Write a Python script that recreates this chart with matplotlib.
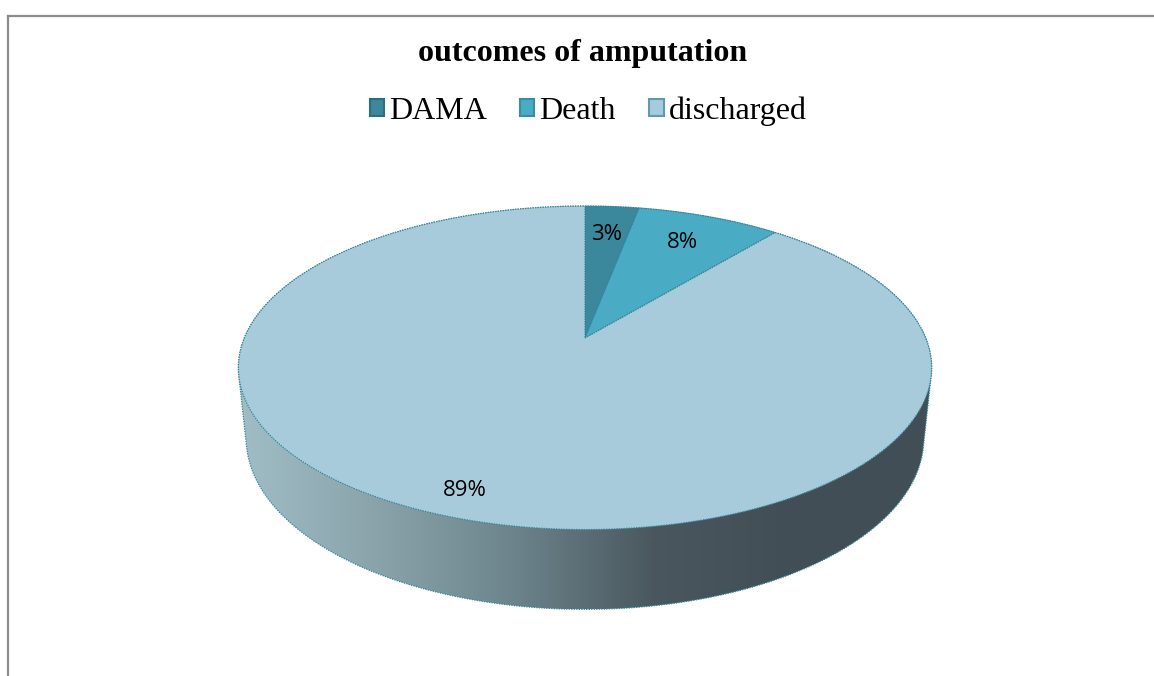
import numpy as np
import matplotlib
matplotlib.use("Agg")
import matplotlib.pyplot as plt
from matplotlib.patches import Polygon, Rectangle
from matplotlib.lines import Line2D
from matplotlib.colors import LinearSegmentedColormap

# ── data ──────────────────────────────────────────────────────────────────────
labels = ["DAMA", "Death", "discharged"]
values = [3, 8, 89]
slice_colors = ["#3b879b", "#4aabc5", "#a7cbdb"]
edge_colors = ["#2d6e80", "#378fa7", "#5f9bb0"]

TITLE = "outcomes of amputation"

# ── 3d pie projection (screen pixels) ─────────────────────────────────────────
CX, CY = 585, 338
F = 1642
D = 4.82
PHI = np.radians(27.3)
THICK = 0.235
EDGE = "#2f859c"


def project(X, Y, Z):
    s, c = np.sin(PHI), np.cos(PHI)
    v = Y * s + Z * c
    w = D + Y * c - Z * s
    return CX + F * X / w, CY - F * v / w


def rim(t0, t1, r=1.0, z=0.0, n=200):
    t = np.linspace(t0, t1, n)
    return project(r * np.sin(t), r * np.cos(t), np.full_like(t, z))


def hull(pts):
    pts = sorted(set(map(tuple, pts)))
    def cross(o, a, b):
        return (a[0]-o[0])*(b[1]-o[1]) - (a[1]-o[1])*(b[0]-o[0])
    lower, upper = [], []
    for p in pts:
        while len(lower) >= 2 and cross(lower[-2], lower[-1], p) <= 0:
            lower.pop()
        lower.append(p)
    for p in reversed(pts):
        while len(upper) >= 2 and cross(upper[-2], upper[-1], p) <= 0:
            upper.pop()
        upper.append(p)
    return np.array(lower[:-1] + upper[:-1])


fig = plt.figure(figsize=(11.54, 6.76), dpi=100)
ax = fig.add_axes([0, 0, 1, 1])
ax.set_xlim(0, 1154)
ax.set_ylim(676, 0)
ax.axis("off")

# side wall: convex hull of top and bottom rims, filled with a gradient
tx, ty = rim(0, 2 * np.pi, n=720)
bx, by = rim(0, 2 * np.pi, z=-THICK, n=720)
side = hull(np.column_stack([np.r_[tx, bx], np.r_[ty, by]]))
side_patch = Polygon(side, closed=True, facecolor="none", edgecolor=EDGE,
                     lw=0.9, ls=(0, (1, 1)), zorder=2)
ax.add_patch(side_patch)
grad_cmap = LinearSegmentedColormap.from_list(
    "side", ["#a0bdc6", "#8aa3ab", "#6c838b", "#4a575e", "#424e55", "#424e55"])
x0, x1 = side[:, 0].min(), side[:, 0].max()
y0, y1 = side[:, 1].min(), side[:, 1].max()
grad = np.linspace(0, 1, 256)[None, :]
im = ax.imshow(grad, cmap=grad_cmap, extent=(x0, x1, y1, y0), aspect="auto",
               zorder=1, interpolation="bilinear")
im.set_clip_path(side_patch)
ax.set_xlim(0, 1154)
ax.set_ylim(676, 0)

# top face wedges
fracs = np.array(values, dtype=float) / sum(values)
bounds = np.r_[0, np.cumsum(fracs)] * 2 * np.pi
for i in range(len(values)):
    px, py = rim(bounds[i], bounds[i + 1])
    poly = np.column_stack([np.r_[CX, px], np.r_[CY, py]])
    ax.add_patch(Polygon(poly, closed=True, facecolor=slice_colors[i],
                         edgecolor=EDGE, lw=0.9, ls=(0, (1, 1)), zorder=3))

# percentage labels
label_r = [0.76, 0.76, 0.88]
for i, v in enumerate(values):
    mid = (bounds[i] + bounds[i + 1]) / 2
    lx, ly = project(label_r[i] * np.sin(mid), label_r[i] * np.cos(mid), 0.0)
    ax.text(lx, ly, f"{v}%", ha="center", va="center", fontsize=16,
            family="Open Sans", color="black", zorder=5)

# title and legend
ax.text(583, 53, TITLE, ha="center", va="center", fontsize=23,
        fontweight="bold", family="Liberation Serif")
handles = [Rectangle((0, 0), 1, 1, facecolor=slice_colors[i],
                     edgecolor=edge_colors[i], lw=1.5) for i in range(3)]
ax.legend(handles, labels, loc="center", bbox_to_anchor=(588 / 1154, 1 - 111 / 676),
          ncol=3, frameon=False, prop={"family": "Liberation Serif", "size": 23},
          handlelength=0.45, handleheight=0.45, handletextpad=0.15,
          columnspacing=1.05)

# chart frame (cropped at right and bottom)
fig.add_artist(Line2D([8 / 1154, 8 / 1154], [0, 1 - 16 / 676], color="#8c8c8c", lw=1.6))
fig.add_artist(Line2D([8 / 1154, 1], [1 - 16 / 676, 1 - 16 / 676], color="#8c8c8c", lw=1.6))

fig.savefig("out.png", dpi=100)
